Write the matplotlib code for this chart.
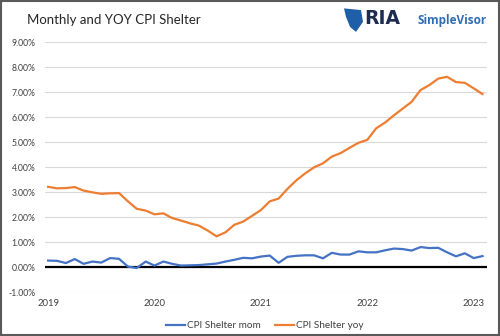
import matplotlib.pyplot as plt
from matplotlib.patches import Rectangle, Polygon
import numpy as np

# Monthly CPI shelter, Jan 2019 - Feb 2023 (percent)
shelter_mom = [0.27, 0.26, 0.17, 0.33, 0.14, 0.23, 0.19, 0.37, 0.34, 0.03,
               -0.03, 0.23, 0.07, 0.23, 0.14, 0.07, 0.08, 0.09, 0.12, 0.15,
               0.23, 0.30, 0.38, 0.36, 0.43, 0.47, 0.18, 0.42, 0.46, 0.48,
               0.48, 0.36, 0.58, 0.51, 0.51, 0.64, 0.60, 0.60, 0.68, 0.75,
               0.73, 0.67, 0.81, 0.77, 0.78, 0.60, 0.44, 0.56, 0.37, 0.45]
shelter_yoy = [3.22, 3.16, 3.17, 3.21, 3.07, 3.00, 2.94, 2.96, 2.97, 2.64,
               2.34, 2.27, 2.12, 2.16, 1.97, 1.87, 1.76, 1.67, 1.47, 1.24,
               1.40, 1.70, 1.83, 2.06, 2.29, 2.64, 2.75, 3.14, 3.48, 3.76,
               4.00, 4.16, 4.43, 4.57, 4.78, 4.98, 5.10, 5.56, 5.79, 6.08,
               6.35, 6.62, 7.09, 7.29, 7.55, 7.62, 7.41, 7.38, 7.16, 6.93]
year_labels = ['2019', '2020', '2021', '2022', '2023']
y_ticks = [-1, 0, 1, 2, 3, 4, 5, 6, 7, 8, 9]

font = 'Lato'
blue = '#4472C4'
orange = '#ED7D31'

months = np.arange(len(shelter_yoy))

fig = plt.figure(figsize=(5, 3.36), dpi=100)
ax = fig.add_axes([0.09, 0.130, 0.884, 0.744])

ax.plot(months, shelter_mom, color=blue, lw=1.6, label='CPI Shelter mom', zorder=3)
ax.plot(months, shelter_yoy, color=orange, lw=1.6, label='CPI Shelter yoy', zorder=3)
ax.axhline(0, color='black', lw=1.6, zorder=2)

ax.set_xlim(-0.35, 49.5)
ax.set_ylim(-1, 9)
ax.set_yticks(y_ticks)
ax.set_yticklabels(['%.2f%%' % v for v in y_ticks], fontsize=6.2,
                   family=font, color='#404040')
ax.set_xticks(np.arange(len(year_labels)) * 12)
ax.set_xticklabels(year_labels, fontsize=6.8, family=font, color='#404040')
ax.tick_params(length=0)
ax.tick_params(axis='y', pad=7)
ax.tick_params(axis='x', pad=5)
ax.grid(axis='y', color='#d9d9d9', lw=0.8)
for s in ax.spines.values():
    s.set_visible(False)

leg = ax.legend(loc='upper center', bbox_to_anchor=(0.497, -0.08), ncol=2,
                frameon=False, handlelength=1.9, columnspacing=1.5,
                handletextpad=0.2, prop={'family': font, 'size': 7.2})
for t in leg.get_texts():
    t.set_color('#404040')

fig.text(0.054, 0.94, 'Monthly and YOY CPI Shelter', fontsize=9.5,
         family=font, color='#262626', va='center')

# logo
fig.text(0.728, 0.945, 'RIA', fontsize=13.5, family='DejaVu Sans',
         weight='bold', color='#1c2d4f', va='center')
fig.text(0.836, 0.94, 'SimpleVisor', fontsize=8.5, family='Open Sans',
         weight='bold', color='#2f6db5', va='center')
fig.patches.append(Polygon([(0.688, 0.975), (0.722, 0.97), (0.726, 0.935),
                            (0.712, 0.905), (0.700, 0.92), (0.692, 0.95)],
                           closed=True, transform=fig.transFigure,
                           facecolor='#1f5fa8', edgecolor='none'))

fig.patches.append(Rectangle((0.002, 0.003), 0.996, 0.994, transform=fig.transFigure,
                             fill=False, edgecolor='#595959', lw=1.5))

fig.savefig('out.png', dpi=100, facecolor='white')
